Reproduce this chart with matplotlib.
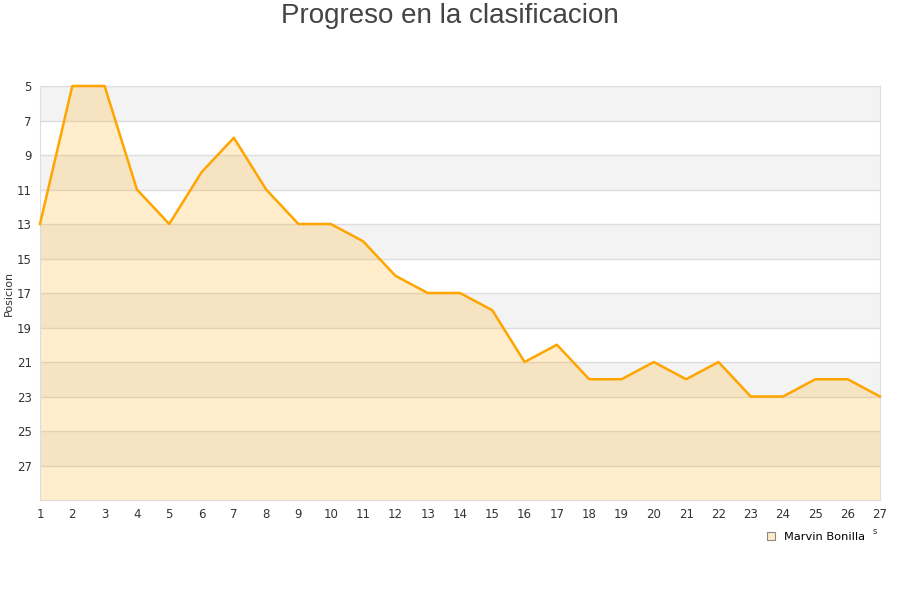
import matplotlib
matplotlib.use("Agg")
import matplotlib.pyplot as plt
from matplotlib.patches import Patch

jornadas = list(range(1, 28))
posicion = [13, 5, 5, 11, 13, 10, 8, 11, 13, 13, 14, 16, 17, 17, 18, 21, 20, 22, 22, 21, 22, 21, 23, 23, 22, 22, 23]
yticks = list(range(5, 28, 2))
player = "Marvin Bonilla"

fig = plt.figure(figsize=(9, 6), dpi=100)
ax = fig.add_axes([40/900, 1-500/600, 840/900, 414/600])

ymin, ymax = 5, 29
for i, y0 in enumerate(range(5, 29, 2)):
    if i % 2 == 0:
        ax.axhspan(y0, y0+2, color="#f3f3f3", zorder=0, lw=0)
for y in yticks:
    ax.axhline(y, color="#dddddd", lw=1, zorder=1)

ax.fill_between(jornadas, posicion, ymax, color="#ffa500", alpha=0.2, lw=0, zorder=2)
ax.plot(jornadas, posicion, color="#ffa500", lw=1.8, zorder=3, clip_on=False)

ax.set_xlim(1, 27)
ax.set_ylim(ymax, ymin)
ax.set_xticks(jornadas)
ax.set_yticks(yticks)
ax.tick_params(axis="both", length=0, labelsize=8.5, colors="#333333", pad=6)
for s in ax.spines.values():
    s.set_color("#dddddd")
ax.set_ylabel("Posicion", fontsize=8, color="#333333", labelpad=2)

fig.text(0.5, 1-16/600, "Progreso en la clasificacion", ha="center", va="center",
         fontsize=20, color="#444444", family="Liberation Sans")
fig.text(875/900, 1-532/600, "s", ha="center", va="center", fontsize=6, color="#333333")

handle = Patch(facecolor="#ffebcc", edgecolor="#888888", lw=0.8)
leg = fig.legend([handle], [player], loc="center", bbox_to_anchor=(816/900, 1-537/600),
                 frameon=False, fontsize=8.2, handlelength=0.7, handleheight=0.7, handletextpad=0.8)

fig.savefig("out.png", dpi=100, facecolor="white")
